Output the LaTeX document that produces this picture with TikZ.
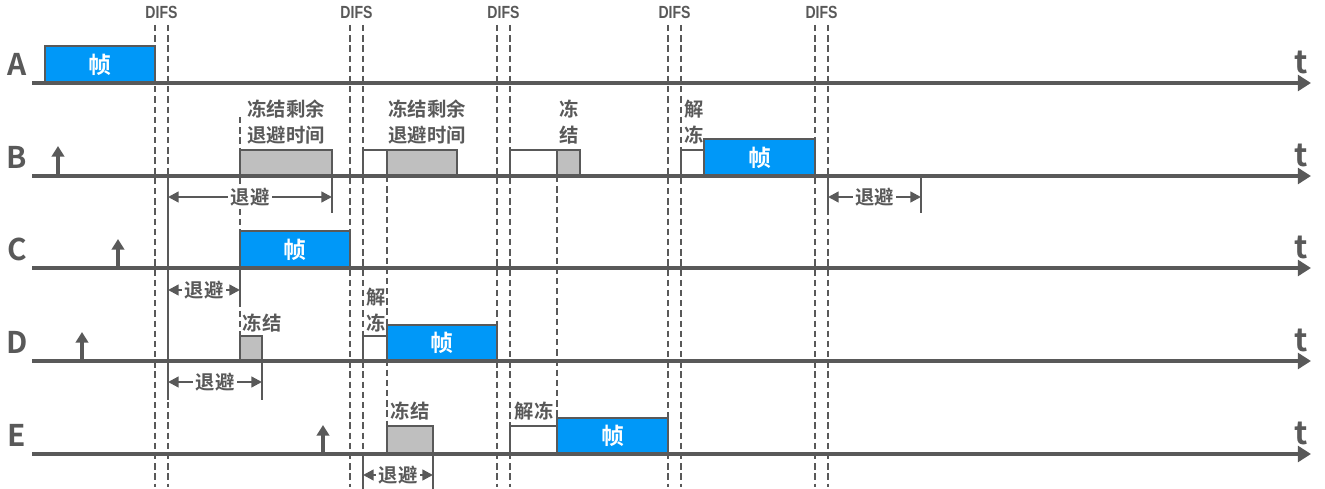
\documentclass[tikz,border=0pt]{standalone}
\usepackage{fontspec}
\setmainfont{Noto Sans CJK SC}[BoldFont={Noto Sans CJK SC Bold}]
\newfontfamily\difsfont{Liberation Sans}[FakeStretch=0.8]
\usepackage{tikz}
\usetikzlibrary{arrows.meta,positioning}
\usepackage{xcolor}
\definecolor{ink}{HTML}{595959}
\definecolor{frameblue}{HTML}{0098F8}
\definecolor{frozen}{HTML}{BFBFBF}
\tikzset{
  timeline/.style={draw=ink,line width=2.6pt,-{Triangle[length=7.5pt,width=9pt]}},
  difs/.style={draw=ink,line width=0.8pt,dash pattern=on 3.6pt off 2.2pt},
  framebox/.style={draw=ink,fill=frameblue,line width=0.9pt},
  frozenbox/.style={draw=ink,fill=frozen,line width=0.9pt},
  idlebox/.style={draw=ink,fill=white,line width=0.9pt},
  arrival/.style={draw=ink,line width=1.8pt,-{Triangle[length=6pt,width=7pt]}},
  backoff/.style={draw=ink,line width=1.3pt,
    {Triangle[length=6pt,width=6pt]}-{Triangle[length=6pt,width=6pt]}},
  tick/.style={draw=ink,line width=1.1pt},
  station/.style={font=\bfseries\fontsize{17}{18}\selectfont,text=ink,inner sep=0pt},
  tlabel/.style={font=\bfseries\fontsize{18}{18}\selectfont,text=ink,inner sep=0pt},
  difslbl/.style={font=\difsfont\bfseries\fontsize{10}{12}\selectfont,text=ink,inner sep=0pt},
  framelbl/.style={font=\bfseries\fontsize{13}{15}\selectfont,text=white,inner sep=0pt},
  lbl/.style={font=\bfseries\fontsize{11}{15}\selectfont,text=ink,align=left,inner sep=0pt},
  bolbl/.style={font=\bfseries\fontsize{11}{13}\selectfont,text=ink,fill=white,inner sep=1.5pt}
}
\begin{document}
\begin{tikzpicture}[x=0.02cm,y=-0.02cm]
\useasboundingbox (0,0) rectangle (1325,489);
% DIFS pairs
\foreach \a/\b [count=\i] in {155/168,350/363,497/510,668/681,815/828}{
  \node[difslbl] (difs\i) at ({(\a+\b)/2},12) {DIFS};
  \draw[difs] (\a,25) -- (\a,487);
  \draw[difs] (\b,25) -- (\b,487);
}
% freeze guides
\draw[difs] (240,117) -- (240,336);
\draw[difs] (387,176) -- (387,426);
\draw[difs] (557,176) -- (557,418);

% stations
\foreach \s/\y in {A/83,B/176,C/268,D/361,E/454}{
  \coordinate (\s0) at (32,\y);
  \coordinate (\s1) at (1311,\y);
  \node[station] (st\s) at (17,\y-19) {\s};
  \node[tlabel] (t\s) at (1301,\y-21) {t};
}

% A
\draw[framebox] (45,46) rectangle (155,83);
\node[framelbl] (fA) at (100,64.5) {帧};

% B
\draw[frozenbox] (240,150) rectangle (332,176);
\draw[idlebox] (363,150) rectangle (387,176);
\draw[frozenbox] (387,150) rectangle (457,176);
\draw[idlebox] (510,150) rectangle (557,176);
\draw[frozenbox] (557,150) rectangle (580,176);
\draw[idlebox] (681,150) rectangle (704,176);
\draw[framebox] (704,139) rectangle (815,176);
\node[framelbl] (fB) at (759.5,157.5) {帧};
\node[lbl] (frzB1) at (286,122) {冻结剩余\\退避时间};
\node[lbl] (frzB2) at (427,122) {冻结剩余\\退避时间};
\node[lbl] (frzB3) at (569,122) {冻\\结};
\node[lbl] (thwB) at (694,122) {解\\冻};

% C
\draw[framebox] (240,231) rectangle (350,268);
\node[framelbl] (fC) at (295,249.5) {帧};

% D
\draw[frozenbox] (240,336) rectangle (262,361);
\draw[idlebox] (363,336) rectangle (387,361);
\draw[framebox] (387,325) rectangle (497,361);
\node[framelbl] (fD) at (442,343) {帧};
\node[lbl] (frzD) at (262,323) {冻结};
\node[lbl] (thwD) at (376,310) {解\\冻};

% E
\draw[frozenbox] (387,426) rectangle (433,454);
\draw[idlebox] (510,426) rectangle (557,454);
\draw[framebox] (557,418) rectangle (668,454);
\node[framelbl] (fE) at (612.5,436) {帧};
\node[lbl] (frzE) at (410,411) {冻结};
\node[lbl] (thwE) at (534,411) {解冻};

\foreach \s in {A,B,C,D,E}
  \draw[timeline] (\s0) -- (\s1);

% arrivals
\coordinate (arrB) at (58,176);  \coordinate (arrBt) at (58,146);
\coordinate (arrC) at (118,268); \coordinate (arrCt) at (118,239);
\coordinate (arrD) at (82,361);  \coordinate (arrDt) at (82,332);
\coordinate (arrE) at (323,454); \coordinate (arrEt) at (323,425);
\foreach \s in {B,C,D,E}
  \draw[arrival] (arr\s) -- (arr\s t);

% backoff spans
\draw[tick] (168,176) -- (168,400);
\draw[tick] (332,176) -- (332,213);
\draw[tick] (240,268) -- (240,300);
\draw[tick] (262,361) -- (262,400);
\draw[tick] (363,454) -- (363,489);
\draw[tick] (433,454) -- (433,489);
\draw[tick] (828,176) -- (828,213);
\draw[tick] (921,176) -- (921,213);
\coordinate (boB1a) at (168,197); \coordinate (boB1b) at (332,197);
\coordinate (boB2a) at (828,197); \coordinate (boB2b) at (921,197);
\coordinate (boCa) at (168,290);  \coordinate (boCb) at (240,290);
\coordinate (boDa) at (168,382);  \coordinate (boDb) at (262,382);
\coordinate (boEa) at (363,475);  \coordinate (boEb) at (433,475);
\draw[backoff] (boB1a) -- node[bolbl] {退避} (boB1b);
\draw[backoff] (boB2a) -- node[bolbl] {退避} (boB2b);
\draw[backoff] (boCa) -- node[bolbl] {退避} (boCb);
\draw[backoff] (boDa) -- node[bolbl] {退避} (boDb);
\draw[backoff] (boEa) -- node[bolbl] {退避} (boEb);
\end{tikzpicture}
\end{document}
